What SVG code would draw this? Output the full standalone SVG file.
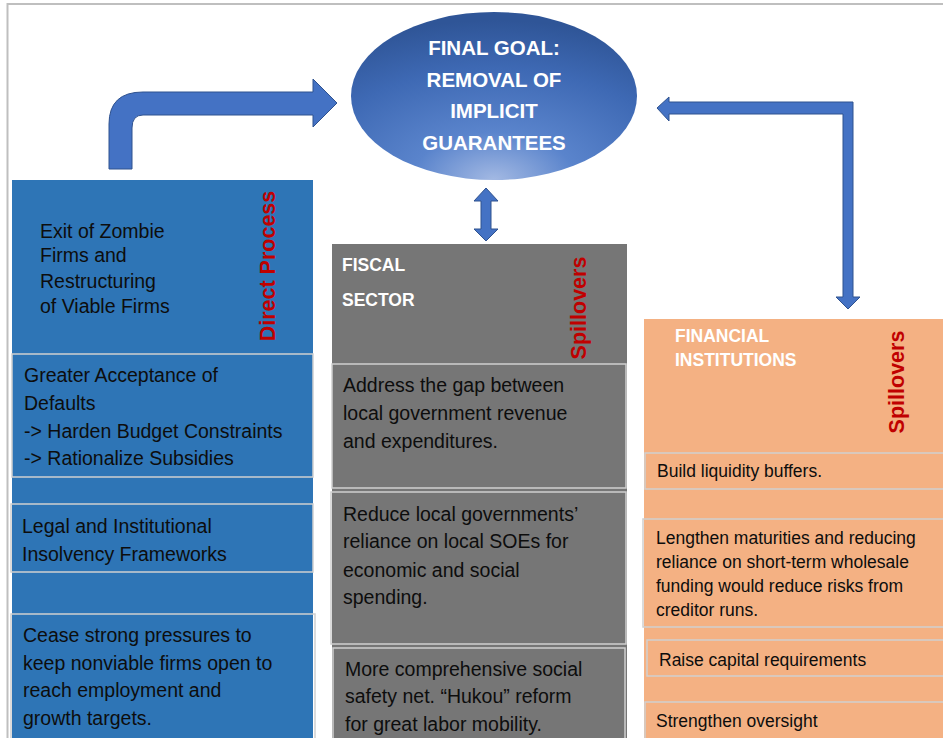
<svg xmlns="http://www.w3.org/2000/svg" width="943" height="738" viewBox="0 0 943 738">
<defs>
<radialGradient id="goalGrad" cx="0.5" cy="1" r="0.95" fx="0.5" fy="1">
<stop offset="0" stop-color="#a3b9e3"/>
<stop offset="0.3" stop-color="#5a84cc"/>
<stop offset="0.7" stop-color="#3e69b4"/>
<stop offset="1" stop-color="#2f5597"/>
</radialGradient>
<style>
.frame{fill:none;stroke:#bfbfbf;stroke-width:2}
.arrow{fill:#4472c4;stroke:#2f528f;stroke-width:1}
.blue{fill:#2e75b6}
.grey{fill:#767676}
.orange{fill:#f4b183}
.sub{fill:none;stroke:#d0d0d0;stroke-width:1.5}
.body{font-family:"Liberation Sans",Arial,sans-serif;font-size:19.5px;fill:#0d0d0d}
.small{font-family:"Liberation Sans",Arial,sans-serif;font-size:17.5px;fill:#0d0d0d}
.hdr{font-family:"Liberation Sans",Arial,sans-serif;font-size:17.5px;font-weight:bold;fill:#ffffff}
.goal{font-family:"Liberation Sans",Arial,sans-serif;font-size:20.5px;font-weight:bold;fill:#ffffff;text-anchor:middle}
.side{font-family:"Liberation Sans",Arial,sans-serif;font-size:21.5px;font-weight:bold;fill:#c00000;text-anchor:middle}
</style>
</defs>
<rect width="943" height="738" fill="#ffffff"/>
<path class="frame" d="M7.5,738 V4 H943"/>

<g id="goal">
<ellipse cx="494" cy="96" rx="143" ry="84" fill="url(#goalGrad)"/>
<text class="goal" x="494" y="55">FINAL GOAL:</text>
<text class="goal" x="494" y="87">REMOVAL OF</text>
<text class="goal" x="494" y="118">IMPLICIT</text>
<text class="goal" x="494" y="150">GUARANTEES</text>
</g>

<g id="connectors">
<path id="arrow-left" class="arrow" d="M109,169 V124 Q109,92 143,92 H313 V79 L337,103 L313,127 V115 H143 Q132,115 132,128 V169 Z"/>
<path id="arrow-right" class="arrow" d="M853,102 V297 H860 L848,309 L836,297 H843 V114 H669 V121 L657,108 L669,97 V102 Z"/>
<path id="arrow-mid" class="arrow" d="M486,188 L498,201 H491 V229 H498 L486,241 L474,229 H481 V201 H474 Z"/>
</g>

<g id="direct">
<rect class="blue" x="12" y="180" width="301" height="558"/>
<text class="body" x="40" y="238">Exit of Zombie</text>
<text class="body" x="40" y="262">Firms and</text>
<text class="body" x="40" y="288">Restructuring</text>
<text class="body" x="40" y="313">of Viable Firms</text>
<text class="side" transform="translate(275,266) rotate(-90)">Direct Process</text>
</g>
<g id="direct-defaults">
<rect class="sub" x="12" y="354" width="301" height="123"/>
<text class="body" x="24" y="382">Greater Acceptance of</text>
<text class="body" x="24" y="410">Defaults</text>
<text class="body" x="24" y="438">-&gt; Harden Budget Constraints</text>
<text class="body" x="24" y="465">-&gt; Rationalize Subsidies</text>
</g>
<g id="direct-legal">
<rect class="sub" x="11" y="504" width="302" height="68"/>
<text class="body" x="22" y="533">Legal and Institutional</text>
<text class="body" x="22" y="561">Insolvency Frameworks</text>
</g>
<g id="direct-cease">
<rect class="sub" x="11" y="614" width="304" height="130"/>
<text class="body" x="23" y="642">Cease strong pressures to</text>
<text class="body" x="23" y="670">keep nonviable firms open to</text>
<text class="body" x="23" y="697">reach employment and</text>
<text class="body" x="23" y="725">growth targets.</text>
</g>

<g id="fiscal">
<rect class="grey" x="332" y="244" width="295" height="494"/>
<text class="hdr" x="342" y="271">FISCAL</text>
<text class="hdr" x="342" y="306">SECTOR</text>
<text class="side" transform="translate(586,308) rotate(-90)">Spillovers</text>
</g>
<g id="fiscal-gap">
<rect class="sub" x="332" y="364" width="294" height="124"/>
<text class="body" x="343" y="392">Address the gap between</text>
<text class="body" x="343" y="420">local government revenue</text>
<text class="body" x="343" y="448">and expenditures.</text>
</g>
<g id="fiscal-soe">
<rect class="sub" x="331" y="492" width="295" height="152"/>
<text class="body" x="343" y="521">Reduce local governments’</text>
<text class="body" x="343" y="548">reliance on local SOEs for</text>
<text class="body" x="343" y="577">economic and social</text>
<text class="body" x="343" y="604">spending.</text>
</g>
<g id="fiscal-safety">
<rect class="sub" x="333" y="648" width="292" height="96"/>
<text class="body" x="345" y="676">More comprehensive social</text>
<text class="body" x="345" y="703">safety net. “Hukou” reform</text>
<text class="body" x="345" y="731">for great labor mobility.</text>
</g>

<g id="financial">
<rect class="orange" x="644" y="319" width="299" height="419"/>
<text class="hdr" x="675" y="342">FINANCIAL</text>
<text class="hdr" x="675" y="366">INSTITUTIONS</text>
<text class="side" transform="translate(904,382) rotate(-90)">Spillovers</text>
</g>
<g id="fin-liquidity">
<rect class="sub" x="645" y="453" width="302" height="36"/>
<text class="small" x="657" y="477">Build liquidity buffers.</text>
</g>
<g id="fin-maturities">
<rect class="sub" x="643" y="519" width="304" height="108"/>
<text class="small" x="656" y="544">Lengthen maturities and reducing</text>
<text class="small" x="656" y="568">reliance on short-term wholesale</text>
<text class="small" x="656" y="592">funding would reduce risks from</text>
<text class="small" x="656" y="616">creditor runs.</text>
</g>
<g id="fin-capital">
<rect class="sub" x="647" y="640" width="300" height="36"/>
<text class="small" x="659" y="666">Raise capital requirements</text>
</g>
<g id="fin-oversight">
<rect class="sub" x="645" y="702" width="302" height="42"/>
<text class="small" x="656" y="727">Strengthen oversight</text>
</g>
</svg>
